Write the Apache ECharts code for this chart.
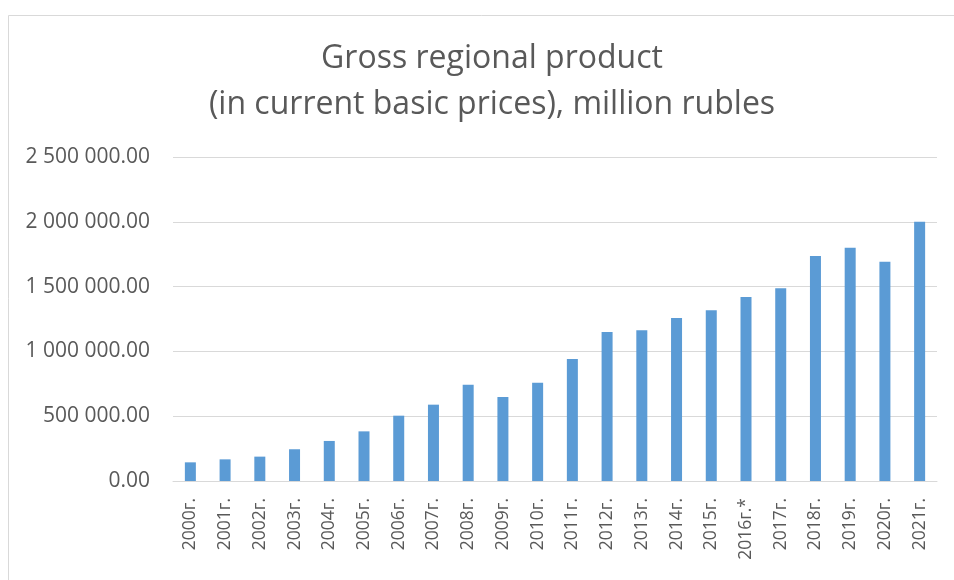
<!DOCTYPE html>
<html>
<head>
<meta charset="utf-8">
<script src="https://cdn.jsdelivr.net/npm/echarts@6/dist/echarts.min.js"></script>
<style>
html,body{margin:0;padding:0;background:#fff;}
#chart{width:954px;height:580px;}
</style>
</head>
<body>
<div id="chart"></div>
<script>
const titleLines = ['Gross regional product', '(in current basic prices), million rubles'];
const categories = ['2000г.','2001г.','2002г.','2003г.','2004г.','2005г.','2006г.','2007г.','2008г.','2009г.','2010г.','2011г.','2012г.','2013г.','2014г.','2015г.','2016г.*','2017г.','2018г.','2019г.','2020г.','2021г.'];
const values = [144000,167000,188000,245000,309000,383000,504000,589000,743000,648000,758000,941000,1150000,1163000,1258000,1317000,1420000,1487000,1736000,1800000,1692000,2001000];
const yTicks = {min: 0, max: 2500000, interval: 500000};

function fmt(v){
  const s = v.toFixed(2);
  const parts = s.split('.');
  const intPart = parts[0].replace(/\B(?=(\d{3})+(?!\d))/g, ' ');
  return intPart + '.' + parts[1];
}

const chart = echarts.init(document.getElementById('chart'));
chart.setOption({
  animation: false,
  backgroundColor: '#fff',
  graphic: [{
    type: 'rect', left: 6, top: 13,
    shape: {width: 1000, height: 620},
    style: {fill: 'none', stroke: '#d9d9d9', lineWidth: 1}
  }],
  title: {
    text: titleLines.join('\n'),
    left: 487, textAlign: 'center', top: 31,
    textStyle: {fontFamily: 'Open Sans', fontWeight: 'normal', fontSize: 32, color: '#595959', lineHeight: 46}
  },
  grid: {left: 173, right: 17, top: 157, bottom: 99},
  xAxis: {
    type: 'category', data: categories,
    axisLine: {lineStyle: {color: '#d9d9d9', width: 1}},
    axisTick: {show: false},
    axisLabel: {rotate: 90, interval: 0, margin: 17, fontFamily: 'Open Sans', fontSize: 17.5, color: '#595959'}
  },
  yAxis: {
    type: 'value', min: yTicks.min, max: yTicks.max, interval: yTicks.interval,
    axisLine: {show: false}, axisTick: {show: false},
    splitLine: {lineStyle: {color: '#d9d9d9', width: 1}},
    axisLabel: {margin: 23, fontFamily: 'Open Sans', fontSize: 21, color: '#595959', formatter: fmt}
  },
  series: [{
    type: 'bar', data: values, barWidth: 11,
    itemStyle: {color: '#5b9bd5'}
  }]
});
</script>
</body>
</html>
